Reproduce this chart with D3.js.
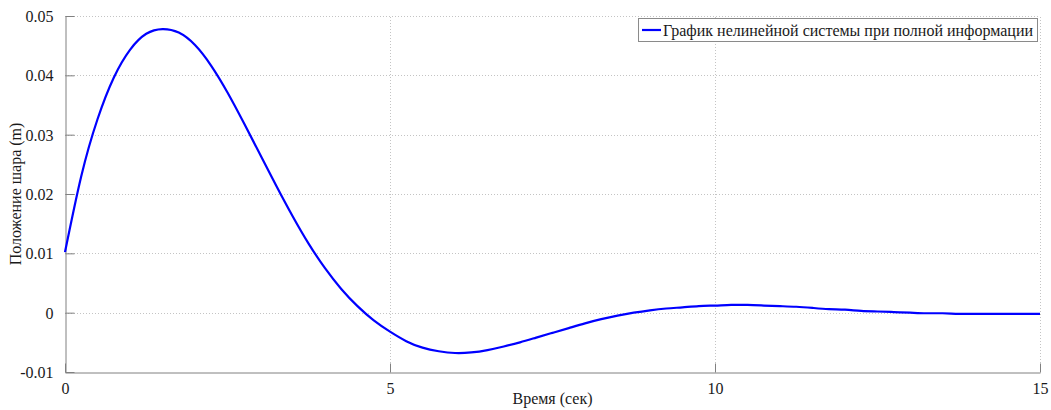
<!DOCTYPE html>
<html>
<head>
<meta charset="utf-8">
<script src="https://cdn.jsdelivr.net/npm/d3@7"></script>
<style>
  html, body { margin: 0; padding: 0; background: #fff; }
  svg, svg text { font-family: "Liberation Serif", "Times New Roman", serif; }
  svg { display: block; }
</style>
</head>
<body>
<svg id="chart" width="1051" height="410"></svg>
<script>
// Ball position over time (nonlinear system, full information), sampled every 0.25 s
const timeSec = [0, 0.25, 0.5, 0.75, 1.0, 1.25, 1.5, 1.75, 2.0, 2.25, 2.5, 2.75, 3.0, 3.25, 3.5, 3.75,
  4.0, 4.25, 4.5, 4.75, 5.0, 5.25, 5.5, 5.75, 6.0, 6.25, 6.5, 6.75, 7.0, 7.25, 7.5, 7.75,
  8.0, 8.25, 8.5, 8.75, 9.0, 9.25, 9.5, 9.75, 10.0, 10.25, 10.5, 10.75, 11.0, 11.25, 11.5, 11.75,
  12.0, 12.25, 12.5, 12.75, 13.0, 13.25, 13.5, 13.75, 14.0, 14.25, 14.5, 14.75, 15.0];
const position = [0.0102, 0.0230, 0.0326, 0.0396, 0.0443, 0.0470, 0.0478, 0.0472, 0.0451, 0.0416,
  0.0371, 0.0320, 0.0267, 0.0214, 0.0163, 0.0116, 0.0075, 0.0040, 0.0011, -0.0013, -0.0032,
  -0.0048, -0.0059, -0.0065, -0.0068, -0.0067, -0.0063, -0.0057, -0.0050, -0.0042, -0.0034, -0.0026,
  -0.0018, -0.0011, -0.0005, 0.0000, 0.0004, 0.0007, 0.0009, 0.0011, 0.0012, 0.0013, 0.0013, 0.0012,
  0.0011, 0.0010, 0.0008, 0.0006, 0.0005, 0.0003, 0.0002, 0.0001, 0.0000, -0.0001, -0.0001, -0.0002,
  -0.0002, -0.0002, -0.0002, -0.0002, -0.0002];

const xTicks = [0, 5, 10, 15];
const yTicks = [-0.01, 0, 0.01, 0.02, 0.03, 0.04, 0.05];
const xTickLabels = ["0", "5", "10", "15"];
const yTickLabels = ["-0.01", "0", "0.01", "0.02", "0.03", "0.04", "0.05"];

const seriesName = "График нелинейной системы при полной информации";
const xTitle = "Время (сек)";
const yTitle = "Положение шара (m)";

const svg = d3.select("#chart");
const margin = { left: 65, right: 11, top: 16, bottom: 38 };
const W = 1051, H = 410;
const x = d3.scaleLinear().domain([0, 15]).range([margin.left, W - margin.right]);
const y = d3.scaleLinear().domain([-0.01, 0.05]).range([H - margin.bottom, margin.top]);

const fontFamily = "'Liberation Serif', 'Times New Roman', serif";
const axisColor = "#808080";
const gridColor = "#c4c4c4";
const textColor = "#1a1a1a";
const fontSize = 16;

// dotted grid
const grid = svg.append("g");
grid.selectAll("line.gx").data(xTicks.filter(d => d > 0)).join("line")
  .attr("x1", d => Math.round(x(d)) + 0.5).attr("x2", d => Math.round(x(d)) + 0.5)
  .attr("y1", y(-0.01)).attr("y2", y(0.05))
  .attr("stroke", gridColor).attr("stroke-width", 1).attr("stroke-dasharray", "1,2");
grid.selectAll("line.gy").data(yTicks.filter(d => d > -0.01)).join("line")
  .attr("x1", x(0)).attr("x2", x(15))
  .attr("y1", d => Math.round(y(d)) + 0.5).attr("y2", d => Math.round(y(d)) + 0.5)
  .attr("stroke", gridColor).attr("stroke-width", 1).attr("stroke-dasharray", "1,2");

// axes (ticks pointing inward)
const xAxis = d3.axisBottom(x).tickValues(xTicks).tickFormat((d, i) => xTickLabels[i])
  .tickSizeInner(-9).tickSizeOuter(0).tickPadding(13);
const yAxis = d3.axisLeft(y).tickValues(yTicks).tickFormat((d, i) => yTickLabels[i])
  .tickSizeInner(-9).tickSizeOuter(0).tickPadding(12);

const gx = svg.append("g").attr("transform", `translate(0,${Math.round(y(-0.01)) + 0.5})`).call(xAxis);
const gy = svg.append("g").attr("transform", `translate(${Math.round(x(0)) + 0.5},0)`).call(yAxis);
[gx, gy].forEach(g => {
  g.attr("font-family", fontFamily).attr("font-size", fontSize);
  g.select(".domain").attr("stroke", axisColor).attr("stroke-width", 1);
  g.selectAll(".tick line").attr("stroke", axisColor);
  g.selectAll(".tick text").attr("fill", textColor);
});
gx.selectAll(".tick text").attr("dy", "0.5em");
gy.selectAll(".tick text").attr("dy", "0.34em");

// data line
const line = d3.line().x((d, i) => x(timeSec[i])).y(d => y(d)).curve(d3.curveNatural);
svg.append("path").datum(position)
  .attr("d", line).attr("fill", "none").attr("stroke", "#0000ff").attr("stroke-width", 2.2);

// axis titles
svg.append("text").attr("x", (x(0) + x(15)) / 2).attr("y", 404)
  .attr("text-anchor", "middle").attr("fill", textColor)
  .attr("font-family", fontFamily).attr("font-size", fontSize).text(xTitle);
svg.append("text").attr("transform", `translate(21,${(y(-0.01) + y(0.05)) / 2}) rotate(-90)`)
  .attr("text-anchor", "middle").attr("fill", textColor)
  .attr("font-family", fontFamily).attr("font-size", fontSize).text(yTitle);

// legend
const lg = svg.append("g");
const lgText = lg.append("text").attr("x", 658).attr("y", 35.5)
  .attr("fill", textColor).attr("font-family", fontFamily).attr("font-size", fontSize).text(seriesName);
const tw = lgText.node().getComputedTextLength();
const boxRight = 1037;
const shift = boxRight - 4 - (658 + tw);
lgText.attr("x", 658 + shift);
lg.insert("rect", "text").attr("x", 633.5 + shift).attr("y", 18.5)
  .attr("width", boxRight - 633 - shift).attr("height", 23)
  .attr("fill", "#fff").attr("stroke", "#8a8a8a").attr("stroke-width", 1);
lg.append("line").attr("x1", 637 + shift).attr("x2", 656 + shift).attr("y1", 30).attr("y2", 30)
  .attr("stroke", "#0000ff").attr("stroke-width", 2.2);
</script>
</body>
</html>
